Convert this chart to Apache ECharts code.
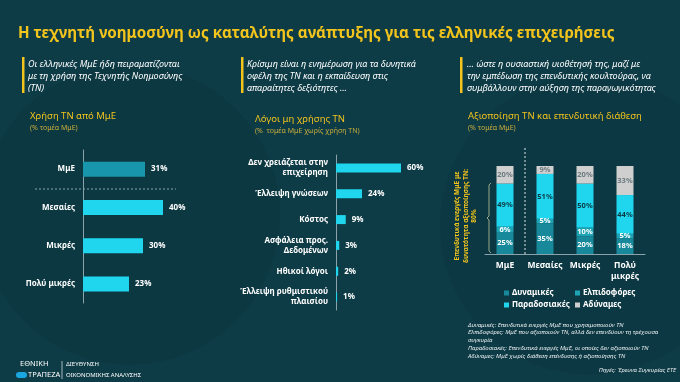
<!DOCTYPE html>
<html><head><meta charset="utf-8">
<script src="https://cdn.jsdelivr.net/npm/echarts@6/dist/echarts.min.js"></script>
<style>html,body{margin:0;padding:0;background:#0d3b46}#c{width:680px;height:382px}</style>
</head><body><div id="c"></div>
<script>
// ---- Data ----
const usageCats = ['ΜμΕ', 'Μεσαίες', 'Μικρές', 'Πολύ μικρές'];
const usageVals = [31, 40, 30, 23];

const reasonCats = ['Δεν χρειάζεται στην\nεπιχείρηση', 'Έλλειψη γνώσεων', 'Κόστος', 'Ασφάλεια προς.\nΔεδομένων', 'Ηθικοί λόγοι', 'Έλλειψη ρυθμιστικού\nπλαισίου'];
const reasonVals = [60, 24, 9, 3, 2, 1];

const segCats = ['ΜμΕ', 'Μεσαίες', 'Μικρές', 'Πολύ\nμικρές'];
const segNames = ['Δυναμικές', 'Ελπιδοφόρες', 'Παραδοσιακές', 'Αδύναμες'];
const dynamicVals = [25, 35, 20, 18];
const hopefulVals = [6, 5, 10, 5];
const traditionalVals = [49, 51, 50, 44];
const weakVals = [20, 9, 20, 33];

const FONT = 'Noto Sans';
const YEL = '#f2c41c';
const C_DYN = '#17899a';
const C_HOPE = '#1ea3b4';
const C_TRAD = '#1fd6ee';
const C_WEAK = '#cfcfcf';
const C_MME = '#1896ab';

const chart = echarts.init(document.getElementById('c'));

const barLabel = {show: true, position: 'right', formatter: '{c}%', color: '#fff', fontSize: 8, fontWeight: 'bold', fontFamily: FONT, distance: 6};
const catLabel = {color: '#fff', fontSize: 8, fontWeight: 'bold', fontFamily: FONT, margin: 8, lineHeight: 10, interval: 0};
const axLine = {show: true, lineStyle: {color: '#8aa3ab', width: 1}};

function segSeries(name, vals, color, labelColor) {
  return {
    name: name, type: 'bar', stack: 's', xAxisIndex: 2, yAxisIndex: 2, barWidth: 17,
    data: vals, itemStyle: {color: color},
    label: {show: true, position: 'inside', formatter: '{c}%', color: labelColor || '#fff', fontSize: 7.5, fontWeight: 'bold', fontFamily: FONT},
    emphasis: {disabled: true}
  };
}

function txt(x, y, s, o) {
  return {type: 'text', left: x, top: y, silent: true,
    style: Object.assign({text: s, fill: '#fff', fontSize: 9, fontFamily: FONT}, o || {})};
}

const graphics = [
  // subtle background circles
  {type: 'circle', shape: {cx: 130, cy: 215, r: 150}, style: {fill: 'rgba(0,0,0,0.05)'}, z: -10, silent: true},
  {type: 'circle', shape: {cx: 590, cy: 225, r: 150}, style: {fill: 'rgba(0,0,0,0.04)'}, z: -10, silent: true},
  // title
  txt(18, 26, 'Η τεχνητή νοημοσύνη ως καταλύτης ανάπτυξης για τις ελληνικές επιχειρήσεις', {fill: YEL, fontSize: 15.2, fontWeight: 'bold'}),
  // yellow side bars
  {type: 'rect', shape: {x: 22, y: 57, width: 2.5, height: 36}, style: {fill: YEL}, silent: true},
  {type: 'rect', shape: {x: 241, y: 57, width: 2.5, height: 36}, style: {fill: YEL}, silent: true},
  {type: 'rect', shape: {x: 460, y: 57, width: 2.5, height: 36}, style: {fill: YEL}, silent: true},
  txt(28, 58, 'Οι ελληνικές ΜμΕ ήδη πειραματίζονται\nμε τη χρήση της Τεχνητής Νοημοσύνης\n(ΤΝ)', {fontStyle: 'italic', fontSize: 9, lineHeight: 12}),
  txt(247, 58, 'Κρίσιμη είναι η ενημέρωση για τα δυνητικά\nοφέλη της ΤΝ και η εκπαίδευση στις\nαπαραίτητες δεξιότητες …', {fontStyle: 'italic', fontSize: 9, lineHeight: 12}),
  txt(467, 58, '… ώστε η ουσιαστική υιοθέτησή της, μαζί με\nτην εμπέδωση της επενδυτικής κουλτούρας, να\nσυμβάλλουν στην αύξηση της παραγωγικότητας', {fontStyle: 'italic', fontSize: 9, lineHeight: 12}),
  // panel titles
  txt(30, 111, 'Χρήση ΤΝ από ΜμΕ', {fill: YEL, fontSize: 9.5}),
  txt(30, 124, '(% τομέα ΜμΕ)', {fill: '#c9ad3c', fontSize: 7}),
  txt(255, 114, 'Λόγοι μη χρήσης ΤΝ', {fill: YEL, fontSize: 9.5}),
  txt(255, 127, '(%  τομέα ΜμΕ χωρίς χρήση ΤΝ)', {fill: '#c9ad3c', fontSize: 7}),
  txt(468, 111, 'Αξιοποίηση ΤΝ και επενδυτική διάθεση', {fill: YEL, fontSize: 9.5}),
  txt(468, 124, '(% τομέα ΜμΕ)', {fill: '#c9ad3c', fontSize: 7}),
  // separator dashed line panel 1
  {type: 'line', shape: {x1: 35, y1: 189, x2: 176, y2: 189}, style: {stroke: '#8aa3ab', lineDash: [2, 2], lineWidth: 1}, silent: true},
  // dashed vertical panel 3
  {type: 'line', shape: {x1: 525, y1: 148, x2: 525, y2: 254}, style: {stroke: '#e0e6e8', lineDash: [2, 2], lineWidth: 1}, silent: true},
  // bracket
  {type: 'polyline', shape: {points: [[491, 183], [489, 185], [489, 216], [487, 218], [489, 220], [489, 251], [491, 253]]}, style: {stroke: '#9aa88a', lineWidth: 1, fill: null}, silent: true},
  // rotated annotation
  {type: 'text', x: 466, y: 216, rotation: Math.PI / 2, silent: true,
    style: {text: 'Επενδυτικά ενεργές ΜμΕ με\nδυνατότητα αξιοποίησης ΤΝ:\n80%', fill: YEL, fontSize: 6.5, fontWeight: 'bold', fontFamily: FONT, align: 'center', verticalAlign: 'middle', lineHeight: 8.5}},
  // footnotes
  txt(468, 321, 'Δυναμικές: Επενδυτικά ενεργές ΜμΕ που χρησιμοποιούν ΤΝ\nΕλπιδοφόρες: ΜμΕ που αξιοποιούν ΤΝ, αλλά δεν επενδύουν τη τρέχουσα\nσυγκυρία\nΠαραδοσιακές: Επενδυτικά ενεργές ΜμΕ, οι οποίες δεν αξιοποιούν ΤΝ\nΑδύναμες: ΜμΕ χωρίς διάθεση επένδυσης ή αξιοποίησης ΤΝ', {fontStyle: 'italic', fontSize: 6, lineHeight: 7.8, fill: '#e6ecee'}),
  {type: 'text', right: 4, top: 367, silent: true, style: {text: 'Πηγές: Έρευνα Συγκυρίας ΕΤΕ', fill: '#e6ecee', fontSize: 6, fontStyle: 'italic', fontFamily: FONT}},
  // logo
  txt(20, 360, 'ΕΘΝΙΚΗ', {fontSize: 7.5, fill: '#fff'}),
  {type: 'rect', shape: {x: 16, y: 372, width: 11, height: 6, r: 3}, style: {fill: '#1aa6e0'}, silent: true},
  txt(28, 371, 'ΤΡΑΠΕΖΑ', {fontSize: 7.5, fill: '#fff'}),
  {type: 'line', shape: {x1: 62, y1: 361, x2: 62, y2: 379}, style: {stroke: '#cfd8db', lineWidth: 0.8}, silent: true},
  txt(66, 361, 'ΔΙΕΥΘΥΝΣΗ', {fontSize: 6, fill: '#fff'}),
  txt(66, 372, 'ΟΙΚΟΝΟΜΙΚΗΣ ΑΝΑΛΥΣΗΣ', {fontSize: 6, fill: '#fff'})
];

const option = {
  backgroundColor: '#0d3b46',
  animation: false,
  textStyle: {fontFamily: FONT},
  graphic: graphics,
  legend: [
    {data: ['Δυναμικές', 'Παραδοσιακές'], orient: 'vertical', left: 499, top: 284, itemWidth: 5, itemHeight: 5, itemGap: 4, icon: 'rect',
      textStyle: {color: '#fff', fontSize: 8, fontWeight: 'bold', fontFamily: FONT, padding: [0, 0, 0, -2]}, selectedMode: false},
    {data: ['Ελπιδοφόρες', 'Αδύναμες'], orient: 'vertical', left: 570, top: 284, itemWidth: 5, itemHeight: 5, itemGap: 4, icon: 'rect',
      textStyle: {color: '#fff', fontSize: 8, fontWeight: 'bold', fontFamily: FONT, padding: [0, 0, 0, -2]}, selectedMode: false}
  ],
  grid: [
    {left: 83, top: 150, width: 100, height: 153},
    {left: 336, top: 155, width: 65, height: 155},
    {left: 485, top: 166, width: 160, height: 88}
  ],
  xAxis: [
    {gridIndex: 0, type: 'value', min: 0, max: 50, show: false},
    {gridIndex: 1, type: 'value', min: 0, max: 60, show: false},
    {gridIndex: 2, type: 'category', data: segCats, axisLine: axLine, axisTick: {show: false},
      axisLabel: {color: '#fff', fontSize: 8.5, fontWeight: 'bold', fontFamily: FONT, margin: 6, lineHeight: 11, interval: 0}}
  ],
  yAxis: [
    {gridIndex: 0, type: 'category', data: usageCats, inverse: true, axisLine: axLine, axisTick: {show: false}, axisLabel: catLabel},
    {gridIndex: 1, type: 'category', data: reasonCats, inverse: true, axisLine: axLine, axisTick: {show: false}, axisLabel: catLabel},
    {gridIndex: 2, type: 'value', min: 0, max: 100, show: false}
  ],
  series: [
    {name: 'usage', type: 'bar', xAxisIndex: 0, yAxisIndex: 0, barWidth: 15,
      data: usageVals.map((v, i) => ({value: v, itemStyle: {color: i === 0 ? C_MME : C_TRAD}})),
      label: barLabel, emphasis: {disabled: true}},
    {name: 'reasons', type: 'bar', xAxisIndex: 1, yAxisIndex: 1, barWidth: 9,
      data: reasonVals, itemStyle: {color: C_TRAD},
      label: barLabel, emphasis: {disabled: true}},
    segSeries(segNames[0], dynamicVals, C_DYN),
    segSeries(segNames[1], hopefulVals, C_HOPE),
    segSeries(segNames[2], traditionalVals, C_TRAD, '#0b3a45'),
    segSeries(segNames[3], weakVals, C_WEAK, '#6b7a80')
  ]
};
chart.setOption(option);
</script>
</body></html>
